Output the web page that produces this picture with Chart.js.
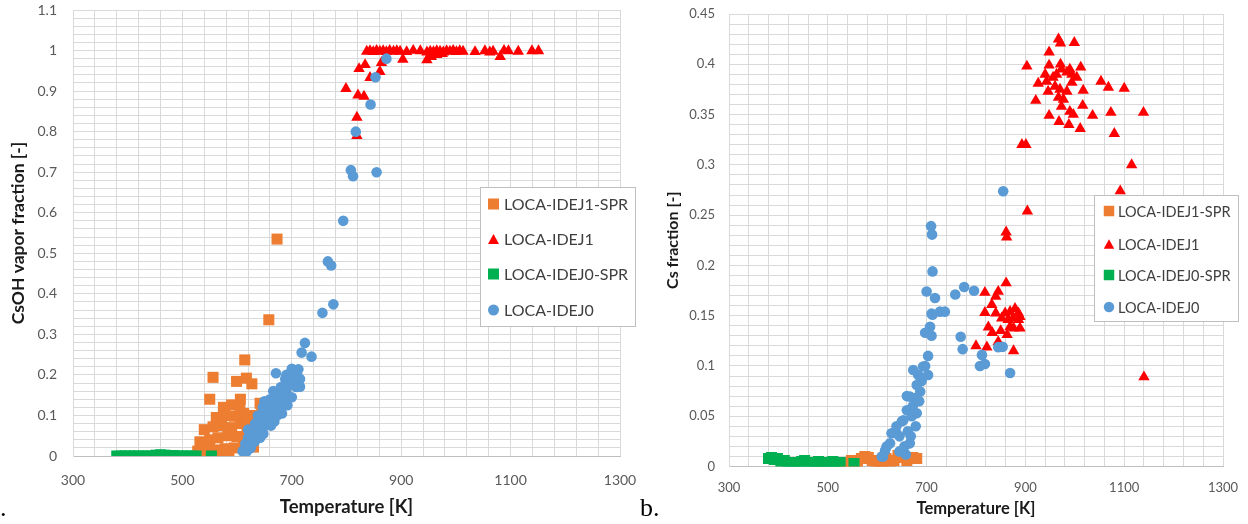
<!DOCTYPE html>
<html><head><meta charset="utf-8">
<script src="https://cdn.jsdelivr.net/npm/chart.js@4/dist/chart.umd.min.js"></script>
<style>
html,body{margin:0;padding:0;background:#fff;width:1248px;height:524px;overflow:hidden;}
#wrap{position:relative;width:1248px;height:524px;}
#cA{position:absolute;left:0;top:0;width:640px;height:524px;}
#cB{position:absolute;left:640px;top:0;width:608px;height:524px;}
.lab{position:absolute;font-family:"Liberation Serif",serif;color:#000;font-size:26px;line-height:30px;}
</style></head><body>
<div id="wrap">
<canvas id="cA" width="640" height="524"></canvas>
<canvas id="cB" width="608" height="524"></canvas>
<div class="lab" style="left:0px;top:493px;">.</div>
<div class="lab" style="left:640px;top:493px;">b.</div>
</div>
<script>
const seriesNames = ['LOCA-IDEJ1-SPR','LOCA-IDEJ1','LOCA-IDEJ0-SPR','LOCA-IDEJ0'];
const xTickLabels = [300,500,700,900,1100,1300];
const yTickLabelsA = [0,0.1,0.2,0.3,0.4,0.5,0.6,0.7,0.8,0.9,1,1.1];
const yTickLabelsB = [0,0.05,0.1,0.15,0.2,0.25,0.3,0.35,0.4,0.45];

// ---- Panel a: CsOH vapor fraction ----
const aJ1sprT = [535,570,585,528,545,560,578,595,612,630,
  532,550,565,583,600,618,635,540,556,572,
  590,606,624,640,562,578,595,612,630,645,
  575,590,605,642,550,606,556,599,617,627,
  614,658,673];
const aJ1sprV = [0,0,0.003,0.012,0.02,0.015,0.018,0.02,0.025,0.022,
  0.035,0.04,0.045,0.05,0.048,0.055,0.05,0.065,0.072,0.075,
  0.07,0.08,0.078,0.085,0.095,0.1,0.098,0.105,0.1,0.11,
  0.12,0.126,0.118,0.13,0.14,0.14,0.194,0.184,0.192,0.178,
  0.237,0.336,0.535];
const aJ1T = [799,819,819,821,832,823,834,843,861,864,
  903,837,843,849,855,861,867,873,879,886,
  892,898,910,922,935,947,953,959,965,971,
  977,983,989,995,1001,1007,1013,1035,1053,1062,
  1068,1088,1096,1114,1139,1151,947,955,965,1081,
  975];
const aJ1V = [0.906,0.835,0.79,0.89,0.887,0.955,0.965,0.933,0.948,0.97,
  0.978,0.998,0.999,0.997,1.0,0.998,0.999,0.997,1.0,0.998,
  0.999,0.998,0.997,1.0,0.999,0.996,0.998,0.997,0.999,0.998,
  0.996,0.999,0.998,1.0,0.997,0.999,0.998,0.997,0.999,0.996,
  0.998,1.0,0.999,0.998,0.999,0.999,0.977,0.985,0.99,0.985,
  0.992];
const aJ0sprT = [380,388,396,404,412,420,428,436,444,452,
  460,468,476,484,492,500,508,516,525,553];
const aJ0sprV = [0,0,0,0,0,0,0,0,0,0.002,
  0.003,0.002,0,0.001,0,0,0,0,0,0];
const aJ0T = [610,615,620,625,628,632,636,640,642,645,
  648,650,652,655,657,660,662,664,666,668,
  670,671,673,675,678,680,682,685,688,690,
  692,695,698,700,703,706,708,710,712,715,
  715,660,650,647,638,633,620,618,690,700,
  718,724,736,756,776,766,772,794,808,812,
  855,817,844,853,873];
const aJ0V = [0.012,0.03,0.045,0.02,0.06,0.035,0.05,0.07,0.045,0.09,
  0.055,0.11,0.075,0.13,0.095,0.14,0.075,0.115,0.16,0.085,
  0.135,0.204,0.1,0.155,0.12,0.17,0.105,0.14,0.19,0.16,
  0.125,0.175,0.2,0.145,0.185,0.21,0.17,0.2,0.214,0.19,
  0.171,0.125,0.135,0.12,0.1,0.08,0.065,0.012,0.2,0.215,
  0.255,0.279,0.245,0.353,0.374,0.48,0.47,0.58,0.705,0.69,
  0.70,0.80,0.867,0.934,0.98];

// ---- Panel b: Cs fraction ----
const bJ1sprT = [530,540,548,560,568,575,582,590,597,604,
  610,618,626,634,642,650,660,672,680];
const bJ1sprV = [0.003,0.004,0.006,0.005,0.008,0.01,0.009,0.006,0.004,0.002,
  0.005,0.008,0.003,0.006,0.011,0.009,0.006,0.009,0.008];
const bJ1T = [967,971,999,948,903,948,971,1012,926,1053,
  1068,1100,921,1017,1016,1036,1073,1139,948,968,
  988,1011,1080,893,901,1115,1092,904,1140,943,
  956,963,973,984,994,1004,946,960,970,984,
  994,967,977,973,990,997,940,990,
  861,845,818,840,832,818,840,859,869,879,
  886,889,852,865,875,886,825,833,850,869,
  876,889,863,800,822,845,876,861,862];
const bJ1V = [0.425,0.421,0.4215,0.412,0.398,0.399,0.40,0.397,0.381,0.383,
  0.377,0.376,0.364,0.374,0.359,0.349,0.352,0.352,0.349,0.343,
  0.34,0.336,0.331,0.32,0.32,0.30,0.274,0.254,0.089,0.383,
  0.387,0.39,0.395,0.392,0.39,0.387,0.373,0.378,0.375,0.373,
  0.382,0.367,0.365,0.358,0.353,0.35,0.39,0.395,
  0.1825,0.174,0.173,0.169,0.161,0.153,0.1525,0.1525,0.154,0.157,
  0.1525,0.149,0.1475,0.146,0.1475,0.146,0.1386,0.133,0.135,0.139,
  0.1376,0.1376,0.131,0.12,0.1187,0.124,0.115,0.233,0.228];
const bJ0sprT = [380,386,392,398,405,412,418,425,432,440,
  447,453,460,467,474,481,488,495,502,510,
  518,525,553];
const bJ0sprV = [0.008,0.009,0.007,0.008,0.005,0.006,0.003,0.004,0.002,0.003,
  0.005,0.006,0.002,0.004,0.003,0.005,0.002,0.004,0.003,0.005,
  0.003,0.004,0.003];
const bJ0T = [609,612,616,619,626,629,639,639,645,650,
  653,655,660,660,662,666,666,670,672,673,
  676,678,680,680,683,685,687,690,693,697,
  697,700,703,703,707,709,710,710,711,712,
  712,717,727,737,758,769,773,776,796,808,
  812,818,845,854,855,869,645,658,668];
const bJ0V = [0.01,0.01,0.016,0.02,0.023,0.033,0.033,0.04,0.03,0.045,
  0.046,0.02,0.056,0.07,0.035,0.023,0.0695,0.05,0.06,0.096,
  0.068,0.04,0.081,0.053,0.091,0.065,0.0745,0.085,0.0994,0.1,
  0.133,0.174,0.11,0.091,0.139,0.239,0.13,0.152,0.2306,0.194,
  0.151,0.1675,0.154,0.154,0.171,0.129,0.1167,0.1785,0.1748,0.1,
  0.111,0.102,0.1187,0.119,0.2737,0.093,0.015,0.012,0.03];

const pts = (T, V) => T.map((t, i) => ({x: t, y: V[i]}));

const styles = [
  {color:'#ED7D31', shape:'rect', r:7.8, order:3},
  {color:'#FF0000', shape:'triangle', r:6.6, order:2},
  {color:'#00B050', shape:'rect', r:7.8, order:1},
  {color:'#5B9BD5', shape:'circle', r:5.3, order:0}
];

function drawMarker(ctx, shape, x, y, size) {
  ctx.beginPath();
  if (shape === 'rect') {
    ctx.rect(x - size/2, y - size/2, size, size);
  } else if (shape === 'triangle') {
    const h = size * 0.9;
    ctx.moveTo(x, y - h/2);
    ctx.lineTo(x + size/2, y + h/2);
    ctx.lineTo(x - size/2, y + h/2);
    ctx.closePath();
  } else {
    ctx.arc(x, y, size/2, 0, Math.PI*2);
  }
  ctx.fill();
}

const boxLegend = {
  id: 'boxLegend',
  afterDraw(chart, args, o) {
    const ctx = chart.ctx;
    ctx.save();
    ctx.fillStyle = '#ffffff';
    ctx.fillRect(o.x, o.y, o.w, o.h);
    ctx.strokeStyle = '#BFBFBF';
    ctx.lineWidth = 1;
    ctx.strokeRect(o.x + 0.5, o.y + 0.5, o.w, o.h);
    ctx.font = o.size + 'px Lato';
    ctx.textBaseline = 'middle';
    ctx.textAlign = 'left';
    chart.data.datasets.forEach((ds, i) => {
      const st = styles[i];
      ctx.fillStyle = st.color;
      drawMarker(ctx, st.shape, o.mx, o.rows[i], o.ms);
      ctx.fillStyle = '#404040';
      ctx.fillText(ds.label, o.tx, o.rows[i] + 1);
    });
    ctx.restore();
  }
};

function noPad(s) {
  s.paddingLeft = 0; s.paddingRight = 0; s.paddingTop = 0; s.paddingBottom = 0;
}

function makeChart(id, data, cfg) {
  const datasets = data.map((d, i) => ({
    label: seriesNames[i],
    data: d,
    pointStyle: styles[i].shape,
    pointRadius: styles[i].r,
    pointHoverRadius: styles[i].r,
    pointBorderWidth: 0,
    backgroundColor: styles[i].color,
    borderColor: styles[i].color,
    showLine: false,
    order: styles[i].order
  }));
  return new Chart(document.getElementById(id), {
    type: 'scatter',
    data: {datasets},
    plugins: [boxLegend],
    options: {
      responsive: false,
      animation: false,
      layout: {padding: cfg.pad},
      plugins: {
        legend: {display: false},
        tooltip: {enabled: false},
        boxLegend: cfg.legend
      },
      scales: {
        x: {
          type: 'linear', min: 300, max: 1300,
          afterFit: s => { s.height = cfg.xH; noPad(s); },
          grid: {color: '#D9D9D9', drawTicks: false, lineWidth: 1},
          border: {display: true, color: '#BFBFBF'},
          ticks: {
            stepSize: 40, autoSkip: false, maxRotation: 0, padding: cfg.xPad,
            color: '#595959', font: {family: 'Lato', size: cfg.tick},
            callback: v => xTickLabels.includes(Math.round(v)) ? String(Math.round(v)) : ''
          },
          title: {display: true, text: 'Temperature [K]', color: '#1a1a1a',
            font: {family: 'Lato', size: cfg.title, weight: 'bold'},
            padding: {top: 0, bottom: cfg.xTitlePad}}
        },
        y: {
          type: 'linear', min: 0, max: cfg.yMax,
          afterFit: s => { s.width = cfg.yW; noPad(s); },
          grid: {color: '#D9D9D9', drawTicks: false, lineWidth: 1},
          border: {display: true, color: '#D9D9D9'},
          ticks: {
            stepSize: cfg.yStep, autoSkip: false, padding: cfg.yPad,
            color: '#595959', font: {family: 'Lato', size: cfg.tick},
            callback: v => {
              const m = cfg.yLabels.find(t => Math.abs(t - v) < 1e-6);
              return m === undefined ? '' : String(m);
            }
          },
          title: {display: true, text: cfg.yTitle, color: '#1a1a1a',
            font: {family: 'Lato', size: cfg.yTitleSize, weight: 'bold'},
            padding: {top: cfg.yTitlePad, bottom: 0}}
        }
      }
    }
  });
}

makeChart('cA', [pts(aJ1sprT, aJ1sprV), pts(aJ1T, aJ1V), pts(aJ0sprT, aJ0sprV), pts(aJ0T, aJ0V)], {
  pad: {left: 0, top: 10, right: 20, bottom: 0},
  xH: 68, yW: 73, yMax: 1.1, yStep: 0.02, yLabels: yTickLabelsA,
  tick: 14, title: 18.5, yTitleSize: 17.5, xPad: 16, yPad: 16, xTitlePad: 6, yTitlePad: 8,
  yTitle: 'CsOH vapor fraction [-]',
  legend: {x: 480, y: 187, w: 155, h: 139, rows: [204, 239, 274, 310], mx: 493.5, tx: 504, ms: 11, size: 16}
});

makeChart('cB', [pts(bJ1sprT, bJ1sprV), pts(bJ1T, bJ1V), pts(bJ0sprT, bJ0sprV), pts(bJ0T, bJ0V)], {
  pad: {left: 0, top: 14, right: 25, bottom: 0},
  xH: 57.5, yW: 89, yMax: 0.45, yStep: 0.01, yLabels: yTickLabelsB,
  tick: 13, title: 16.5, yTitleSize: 16, xPad: 14, yPad: 14, xTitlePad: 5, yTitlePad: 23,
  yTitle: 'Cs fraction [-]',
  legend: {x: 454, y: 195, w: 144, h: 126, rows: [211, 244, 275, 307], mx: 469, tx: 478, ms: 10.5, size: 14.5}
});
</script>
</body></html>
